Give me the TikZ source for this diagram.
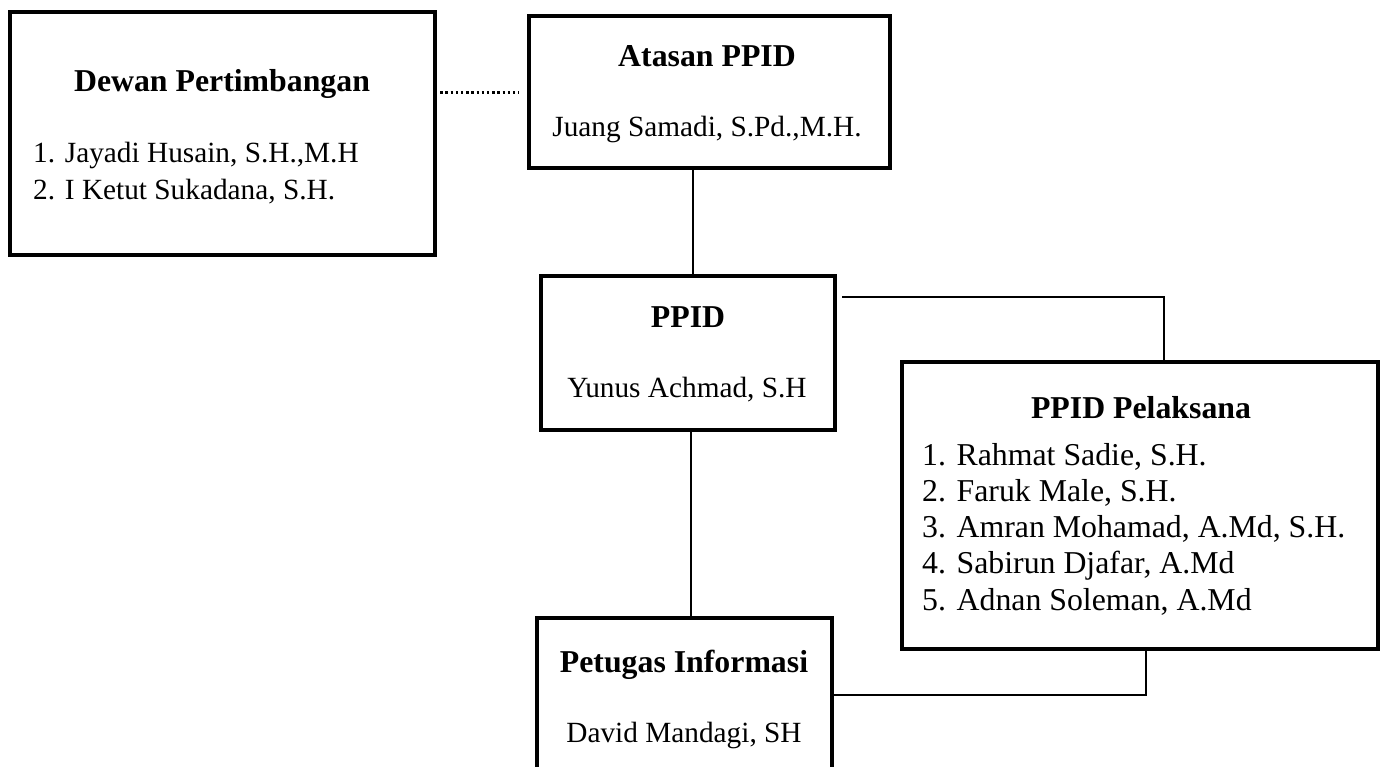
\documentclass[tikz,border=0pt]{standalone}
\usepackage{fontspec}
\setmainfont{Liberation Serif}
\begin{document}
\begin{tikzpicture}[x=1pt,y=-1pt,
  box/.style={draw=black, line width=4.2pt, inner sep=0pt, anchor=north west},
  conn/.style={draw=black, line width=2pt},
  dotline/.style={draw=black, line width=3pt, dash pattern=on 2.4pt off 2.8pt},
  ttl/.style={font=\fontsize{31.8}{36}\selectfont\bfseries, inner sep=0pt, anchor=base},
  txt/.style={font=\fontsize{29.3}{35}\selectfont, inner sep=0pt, anchor=base},
  item/.style={font=\fontsize{29.3}{35}\selectfont, inner sep=0pt, anchor=base west},
  itemb/.style={font=\fontsize{31.8}{36}\selectfont, inner sep=0pt, anchor=base west},
]
\useasboundingbox (0,0) rectangle (1382,767);
\clip (0,0) rectangle (1382,767);
\fill[white] (0,0) rectangle (1382,767);

% boxes
\node[box, minimum width=425pt, minimum height=243pt] (dewan) at (8,10) {};
\node[box, minimum width=361pt, minimum height=152pt] (atasan) at (527,14) {};
\node[box, minimum width=294pt, minimum height=154pt] (ppid) at (539,274) {};
\node[box, minimum width=476pt, minimum height=287pt] (pel) at (900,360) {};
\node[box, minimum width=295pt, minimum height=220pt] (petugas) at (535,616) {};

% texts
\node[ttl] (dewanT) at (222,92) {Dewan Pertimbangan};
\node[item] (dewan1) at (33,163) {1. Jayadi Husain, S.H.,M.H};
\node[item] (dewan2) at (33,200) {2. I Ketut Sukadana, S.H.};

\node[ttl] (atasanT) at (707,66.5) {Atasan PPID};
\node[txt] (atasanN) at (707,136.5) {Juang Samadi, S.Pd.,M.H.};

\node[ttl] (ppidT) at (688,328) {PPID};
\node[txt] (ppidN) at (687,397) {Yunus Achmad, S.H};

\node[ttl] (pelT) at (1141,418) {PPID Pelaksana};
\node[itemb] (pel1) at (922,465) {1. Rahmat Sadie, S.H.};
\node[itemb] (pel2) at (922,501.5) {2. Faruk Male, S.H.};
\node[itemb] (pel3) at (922,537.5) {3. Amran Mohamad, A.Md, S.H.};
\node[itemb] (pel4) at (922,573.5) {4. Sabirun Djafar, A.Md};
\node[itemb] (pel5) at (922,610) {5. Adnan Soleman, A.Md};

\node[ttl] (petT) at (684,672) {Petugas Informasi};
\node[txt] (petN) at (684,742) {David Mandagi, SH};

% helper coordinates
\coordinate (dy) at (0,93);
\coordinate (vx1) at (693,0);
\coordinate (vx2) at (691,0);
\coordinate (hy1) at (0,297);
\coordinate (vx3) at (1164,0);
\coordinate (hy2) at (0,695);
\coordinate (vx4) at (1146,0);

% connectors
\draw[dotline, shorten <=3pt, shorten >=8pt] (dewan.east |- dy) -- (atasan.west |- dy);
\draw[conn] (atasan.south -| vx1) -- (ppid.north -| vx1);
\draw[conn] (ppid.south -| vx2) -- (petugas.north -| vx2);
\draw[conn, shorten <=5pt] (ppid.east |- hy1) -| (pel.north -| vx3);
\draw[conn] (petugas.east |- hy2) -| (pel.south -| vx4);
\end{tikzpicture}
\end{document}
